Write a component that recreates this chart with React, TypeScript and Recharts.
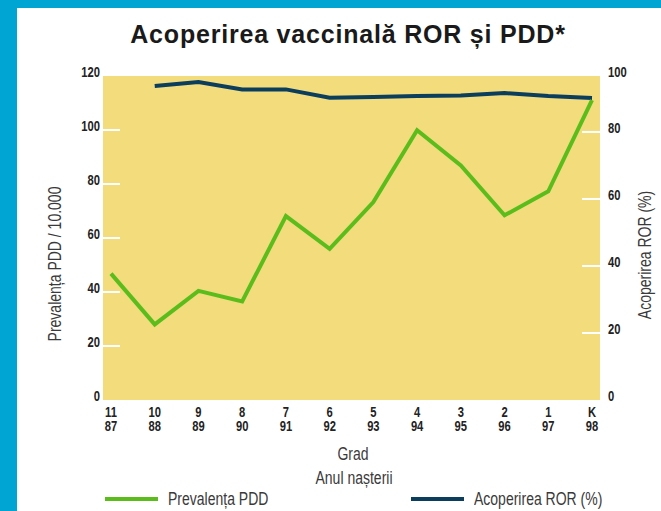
import { LineChart, Line, XAxis, YAxis, CartesianGrid } from 'recharts';

const grades = ['11', '10', '9', '8', '7', '6', '5', '4', '3', '2', '1', 'K'];
const birthYears = ['87', '88', '89', '90', '91', '92', '93', '94', '95', '96', '97', '98'];
// Prevalența PDD / 10.000 (left axis)
const pddPrevalence = [46.8, 28.0, 40.4, 36.5, 68.1, 56.0, 73.3, 99.9, 86.9, 68.4, 77.3, 111.1];
// Acoperirea ROR (%) (right axis), no value for grade 11
const rorCoverage = [null, 93.7, 94.9, 92.7, 92.7, 90.2, 90.4, 90.7, 90.9, 91.6, 90.7, 90.1];
const leftTicks = [0, 20, 40, 60, 80, 100, 120];
const rightTicks = [0, 20, 40, 60, 80, 100];

const W = 661;
const H = 511;
const PLOT_TOP = 76;
const SANS = "'Liberation Sans', Arial, sans-serif";
const SQUEEZE = 0.8; // no condensed face installed, so squeeze horizontally
const GREEN = '#5bbd1c';
const NAVY = '#0b3d5c';

const rows = grades.map((g, i) => ({
  grade: g,
  year: birthYears[i],
  pdd: pddPrevalence[i],
  ror: rorCoverage[i],
}));

const tickText = { fontFamily: SANS, fontWeight: 700, fontSize: 14, fill: '#222' };

function SqueezedText({ x, y, anchor, children }: any) {
  return (
    <text
      transform={`translate(${x},${y}) scale(${SQUEEZE},1)`}
      x={0}
      y={0}
      dy="0.36em"
      textAnchor={anchor}
      {...tickText}
    >
      {children}
    </text>
  );
}

function LeftTick(props: any) {
  const { x, y, payload } = props;
  const v = payload.value;
  return (
    <g>
      {v > 0 && v < 120 && (
        <line x1={x + 3} x2={x + 20} y1={y} y2={y} stroke="#fff" strokeWidth={2} />
      )}
      <SqueezedText x={x} y={Math.max(y, PLOT_TOP) - 4} anchor="end">
        {v}
      </SqueezedText>
    </g>
  );
}

function RightTick(props: any) {
  const { x, y, payload } = props;
  const v = payload.value;
  return (
    <g>
      {v > 0 && v < 100 && (
        <line x1={x - 26} x2={x - 8} y1={y} y2={y} stroke="#fff" strokeWidth={2} />
      )}
      <SqueezedText x={x} y={Math.max(y, PLOT_TOP) - 4} anchor="start">
        {v}
      </SqueezedText>
    </g>
  );
}

function BottomTick(props: any) {
  const { x, y, payload, index } = props;
  return (
    <g>
      <SqueezedText x={x} y={y + 12} anchor="middle">
        {payload.value}
      </SqueezedText>
      <SqueezedText x={x} y={y + 26} anchor="middle">
        {birthYears[index]}
      </SqueezedText>
    </g>
  );
}

const label: React.CSSProperties = {
  position: 'absolute',
  fontFamily: SANS,
  fontSize: 17.5,
  color: '#3a3a3a',
  whiteSpace: 'nowrap',
  lineHeight: '20px',
};

const legendItems = [
  { name: 'Prevalența PDD', color: GREEN, left: 105 },
  { name: 'Acoperirea ROR (%)', color: NAVY, left: 411 },
];

export default function App() {
  return (
    <div style={{ position: 'absolute', left: 0, top: 0, width: W, height: H, background: '#00a5d4', overflow: 'hidden' }}>
      <div style={{ position: 'absolute', left: 17, top: 8, right: 0, bottom: 0, background: '#fff' }} />
      <div
        style={{
          position: 'absolute',
          left: 348,
          top: 21,
          transform: 'translateX(-50%)',
          fontFamily: SANS,
          fontWeight: 700,
          fontSize: 25,
          lineHeight: '26px',
          letterSpacing: 0.8,
          color: '#1a1a1a',
          whiteSpace: 'nowrap',
        }}
      >
        Acoperirea vaccinală ROR și PDD*
      </div>
      <div style={{ position: 'absolute', left: 0, top: 0 }}>
        <LineChart width={W} height={H} data={rows} margin={{ top: PLOT_TOP, left: 63, right: 11, bottom: 71 }}>
          <CartesianGrid fill="#f2dc7c" fillOpacity={1} stroke="none" horizontal={false} vertical={false} />
          <XAxis
            dataKey="grade"
            height={40}
            padding={{ left: 8, right: 8 }}
            axisLine={false}
            tickLine={false}
            tickSize={0}
            tickMargin={0}
            interval={0}
            tick={<BottomTick />}
          />
          <YAxis
            yAxisId="left"
            width={40}
            domain={[0, 120]}
            ticks={leftTicks}
            axisLine={false}
            tickLine={false}
            tickSize={0}
            tickMargin={3}
            interval={0}
            tick={<LeftTick />}
          />
          <YAxis
            yAxisId="right"
            orientation="right"
            width={50}
            domain={[0, 96.7]}
            allowDataOverflow
            ticks={rightTicks}
            axisLine={false}
            tickLine={false}
            tickSize={0}
            tickMargin={8}
            interval={0}
            tick={<RightTick />}
          />
          <Line
            yAxisId="right"
            dataKey="ror"
            name="Acoperirea ROR (%)"
            stroke={NAVY}
            strokeWidth={4}
            dot={false}
            activeDot={false}
            isAnimationActive={false}
          />
          <Line
            yAxisId="left"
            dataKey="pdd"
            name="Prevalența PDD"
            stroke={GREEN}
            strokeWidth={4}
            dot={false}
            activeDot={false}
            isAnimationActive={false}
          />
        </LineChart>
      </div>
      <div style={{ ...label, left: 55, top: 264, transform: `translate(-50%, -50%) rotate(-90deg) scaleX(${SQUEEZE})` }}>
        Prevalența PDD / 10.000
      </div>
      <div style={{ ...label, left: 645, top: 255, transform: `translate(-50%, -50%) rotate(-90deg) scaleX(${SQUEEZE})` }}>
        Acoperirea ROR (%)
      </div>
      <div style={{ ...label, left: 353, top: 454, transform: `translate(-50%, -50%) scaleX(${SQUEEZE})` }}>Grad</div>
      <div style={{ ...label, left: 354, top: 478, transform: `translate(-50%, -50%) scaleX(${SQUEEZE})` }}>Anul nașterii</div>
      {legendItems.map((it) => (
        <div key={it.name}>
          <div style={{ position: 'absolute', left: it.left, top: 497, width: 53, height: 4, background: it.color }} />
          <div
            style={{
              ...label,
              left: it.left + 63,
              top: 489,
              transform: `scaleX(${SQUEEZE})`,
              transformOrigin: 'left center',
            }}
          >
            {it.name}
          </div>
        </div>
      ))}
    </div>
  );
}
